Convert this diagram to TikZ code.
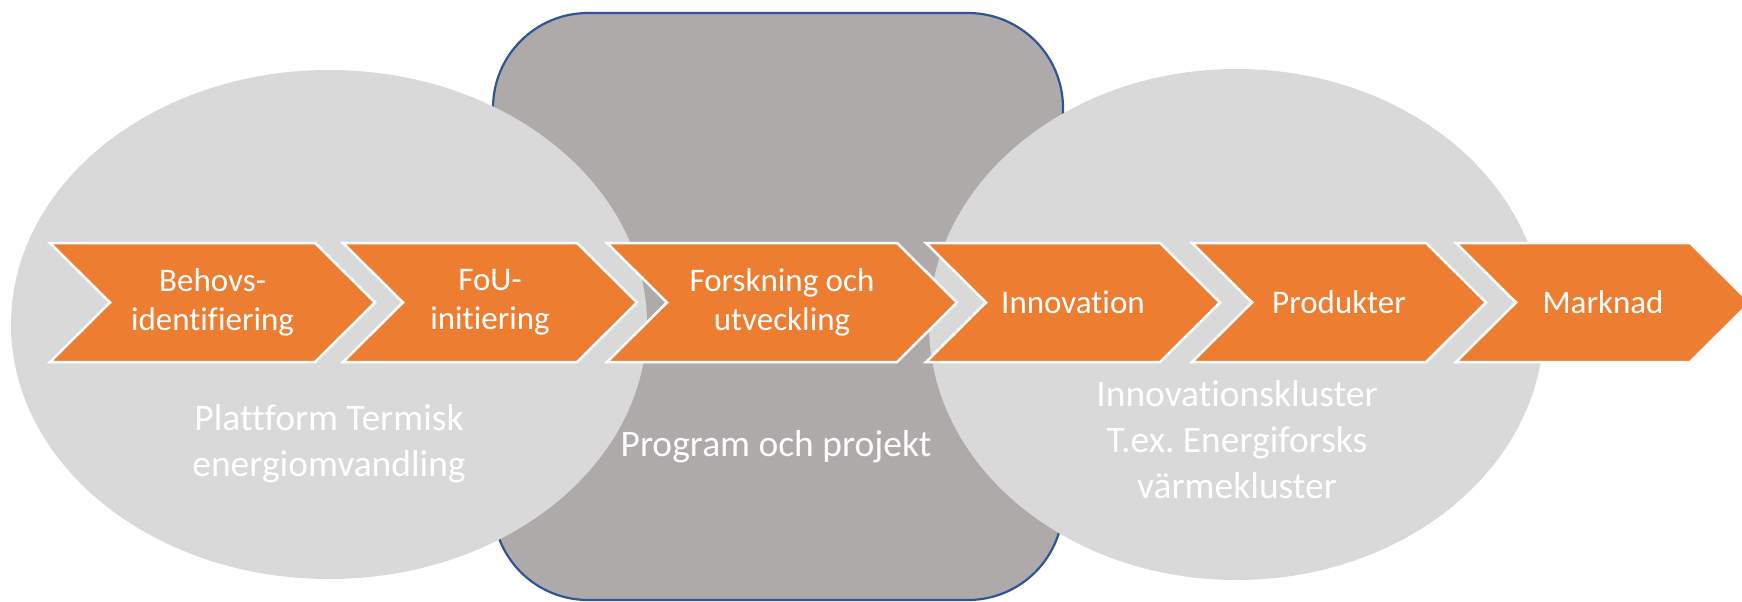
\documentclass[tikz,border=0pt]{standalone}
\usepackage{fontspec}
\setmainfont{Carlito}[Ligatures={NoCommon}]
\frenchspacing
\definecolor{stageorange}{HTML}{ED7D31}
\definecolor{clustergray}{HTML}{D9D9D9}
\definecolor{programgray}{HTML}{AEAAAA}
\definecolor{programedge}{HTML}{2F5597}
\tikzset{
  programbox/.style={fill=programgray, draw=programedge, line width=2.2pt, rounded corners=95pt},
  clusterfill/.style={fill=clustergray},
  stagebox/.style={fill=stageorange, draw=white, line width=2.5pt, line join=miter},
  stagetext/.style={text=white, align=center, inner sep=0pt, font=\fontsize{33}{39}\selectfont},
  labeltext/.style={text=white, align=center, inner sep=0pt, font=\fontsize{37.5}{46}\selectfont}
}
% one process stage: name, left x, x where the straight top edge ends, label
\newcommand\stage[4]{%
  \draw[stagebox] (#2,243) -- (#3,243) -- (#3+60,302.5) -- (#3,362) -- (#2,362) -- (#2+60,302.5) -- cycle;
  \node[stagetext] (#1) at ({(#2+#3+60)/2},302.5) {#4};
}
\begin{document}
\begin{tikzpicture}[x=1pt,y=-1pt]
\useasboundingbox (0,0) rectangle (1742,602);
\clip (0,0) rectangle (1742,602);

% programmes and projects
\draw[programbox] (493,13) rectangle (1063,600);

% the two clusters
\fill[clusterfill] (329,324.5) ellipse [x radius=318pt, y radius=254.5pt];
\fill[clusterfill] (1236.5,324.5) ellipse [x radius=307.5pt, y radius=255.5pt];

% the value chain
\stage{behov}{50}{315}{Behovs-\\identifiering}
\stage{fou}{343}{577}{FoU-\\initiering}
\stage{forskning}{607}{897}{Forskning och\\utveckling}
\stage{innovation}{926}{1160}{Innovation}
\stage{produkter}{1192}{1426}{Produkter}
\stage{marknad}{1456}{1690}{Marknad}

% captions
\node[labeltext] (plattform) at (329,444) {Plattform Termisk\\energiomvandling};
\node[labeltext] (program) at (776,447) {Program och projekt};
\node[labeltext] (kluster) at (1237,440) {Innovationskluster\\T.ex. Energiforsks\\värmekluster};
\end{tikzpicture}
\end{document}
